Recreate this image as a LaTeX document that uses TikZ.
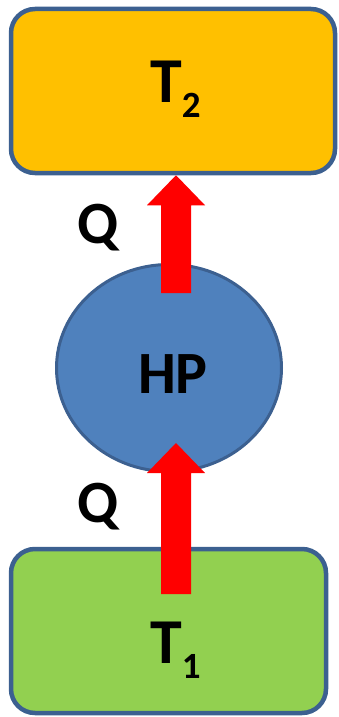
\documentclass[tikz,border=0pt]{standalone}
\usepackage{fontspec}
\setmainfont{Carlito}
\usetikzlibrary{shapes.geometric,calc}
\definecolor{edgeblue}{HTML}{3C6090}
\definecolor{hotbox}{HTML}{FFC000}
\definecolor{coldbox}{HTML}{92D050}
\definecolor{pumpblue}{HTML}{4F81BD}
\definecolor{flowred}{HTML}{FF0000}
\tikzset{
  reservoir/.style={draw=edgeblue, line width=4.5pt, rounded corners=24pt, rectangle, inner sep=0pt},
  pump/.style={draw=edgeblue, fill=pumpblue, line width=3pt, ellipse, inner sep=0pt},
  biglabel/.style={inner sep=0pt, font=\fontsize{64}{70}\selectfont\bfseries},
  qlabel/.style={inner sep=0pt, anchor=base, font=\fontsize{60}{66}\selectfont\bfseries},
  heatflow/.style={fill=flowred}
}
\newcommand{\heatarrow}[2]{% #1 start (shaft bottom), #2 tip
  \fill[heatflow] ($(#1)+(-15,0)$) -- ($(#2)+(-15,30)$) -- ($(#2)+(-29,30)$) -- (#2)
    -- ($(#2)+(29,30)$) -- ($(#2)+(15,30)$) -- ($(#1)+(15,0)$) -- cycle;}
\begin{document}
\begin{tikzpicture}[x=1pt, y=-1pt]
\useasboundingbox (0,0) rectangle (339,717);
\node[reservoir, fill=hotbox, minimum width=324pt, minimum height=164pt] (t2) at (173,91) {};
\node[reservoir, fill=coldbox, minimum width=315pt, minimum height=164pt] (t1) at (168.5,631) {};
\node[pump, minimum width=225pt, minimum height=207pt] (hp) at (169,368) {};
\node[biglabel, anchor=base west] (t2lab) at (150,102) {T\raisebox{-15pt}{\fontsize{37}{40}\selectfont 2}};
\node[biglabel, anchor=base west] (t1lab) at (150,663) {T\raisebox{-15pt}{\fontsize{37}{40}\selectfont 1}};
\node[biglabel, anchor=base, font=\fontsize{60}{66}\selectfont\bfseries] (hplab) at (173,393) {HP};
\node[qlabel] (qtop) at (98,243) {Q};
\node[qlabel] (qbot) at (98,522) {Q};
\coordinate (upstart) at (176,293);
\coordinate (uptip) at (t2.south -| upstart);
\coordinate (lowstart) at (176,594);
\coordinate (lowtip) at (176,443);
\heatarrow{upstart}{uptip}
\heatarrow{lowstart}{lowtip}
\end{tikzpicture}
\end{document}
